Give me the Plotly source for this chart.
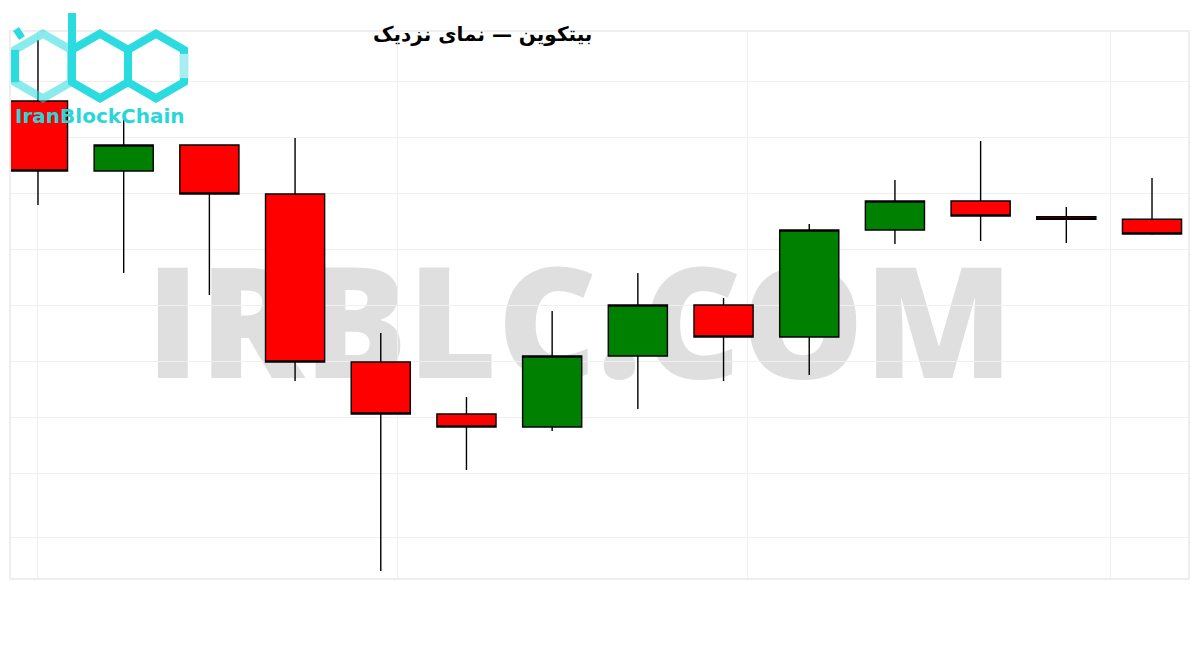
import pandas as pd
import plotly.graph_objects as go

# ---- data ----
dates = pd.date_range("2024-03-01", periods=14, freq="D")
opens = [63821, 63196, 63429, 62991, 61491, 61027, 60911, 61545, 62000, 61714, 62670, 62929, 62789, 62765]
closes = [63196, 63429, 62991, 61491, 61027, 60911, 61545, 62000, 61714, 62670, 62929, 62795, 62765, 62634]
highs = [64366, 63696, 63429, 63491, 61750, 61179, 61946, 62286, 62062, 62723, 63116, 63464, 62875, 63134]
lows = [62893, 62286, 62089, 61321, 59625, 60527, 60875, 61071, 61321, 61375, 62545, 62571, 62554, 62625]
grid_prices = [64000, 63500, 63000, 62500, 62000, 61500, 61000, 60500, 59920]
title_text = "بیتکوین — نمای نزدیک"
watermark_text = "IRBLC.COM"
logo_text = "IranBlockChain"

# ---- layout helpers (target pixel -> paper) ----
L, R, T, B = 11, 1188, 32, 578
OFF = 8  # page body margin offset
def fx(px):
    return (px - L) / (R - L)
def fy(py):
    return (B - py) / (B - T)

d0 = dates[0]
day = pd.Timedelta(days=1)
x_range = [d0 - 0.315 * day, d0 + 13.42 * day]
x_grid = [d0 + k * day for k in (0, 4.2, 8.285, 12.51)]

fig = go.Figure()

fig.add_trace(go.Candlestick(
    x=dates, open=opens, high=highs, low=lows, close=closes,
    increasing=dict(fillcolor="#008000", line=dict(color="black", width=1.4)),
    decreasing=dict(fillcolor="#ff0000", line=dict(color="black", width=1.4)),
    whiskerwidth=0, showlegend=False, hoverinfo="skip",
))

shapes = []
# watermark as a shape label drawn below the traces
shapes.append(dict(
    type="rect", xref="x", yref="y", layer="below",
    x0=d0 + 1.32 * day, x1=d0 + 11.32 * day, y0=61290, y1=62290,
    line=dict(width=0), fillcolor="rgba(0,0,0,0)",
    label=dict(text=watermark_text, textposition="middle center",
               font=dict(family="Open Sans", size=154, color="rgba(175,175,175,0.4)", weight=800)),
))

# ---- logo shapes ----
cyan = "#2adbdf"
light = "#a6eef0"
r, w, cy = 32.3, 56.0, 66.0
def hex_path(cx):
    pts = [(cx, cy - r), (cx + w / 2, cy - r / 2), (cx + w / 2, cy + r / 2),
           (cx, cy + r), (cx - w / 2, cy + r / 2), (cx - w / 2, cy - r / 2)]
    return "M " + " L ".join(f"{fx(a)},{fy(b)}" for a, b in pts) + " Z"

shapes.append(dict(type="path", path=hex_path(43), line=dict(color="rgba(42,219,223,0.55)", width=8),
                   xref="paper", yref="paper", layer="above"))
shapes.append(dict(type="line", x0=fx(43 - w / 2), x1=fx(43 - w / 2), y0=fy(cy - r / 2), y1=fy(cy + r / 2),
                   line=dict(color=cyan, width=8), xref="paper", yref="paper", layer="above"))
shapes.append(dict(type="path", path=hex_path(100), line=dict(color=cyan, width=8),
                   xref="paper", yref="paper", layer="above"))
shapes.append(dict(type="path", path=hex_path(156), line=dict(color=cyan, width=8),
                   xref="paper", yref="paper", layer="above"))
shapes.append(dict(type="line", x0=fx(156 + w / 2), x1=fx(156 + w / 2), y0=fy(cy - r / 2 + 4), y1=fy(cy + r / 2 - 4),
                   line=dict(color=light, width=9), xref="paper", yref="paper", layer="above"))
shapes.append(dict(type="line", x0=fx(72), x1=fx(72), y0=fy(13), y1=fy(cy + r / 2),
                   line=dict(color=cyan, width=8), xref="paper", yref="paper", layer="above"))
shapes.append(dict(type="line", x0=fx(16), x1=fx(22), y0=fy(29), y1=fy(38),
                   line=dict(color=cyan, width=7), xref="paper", yref="paper", layer="above"))

annotations = [
    dict(text=f"<b>{title_text}</b>", x=fx(482), y=fy(34), xref="paper", yref="paper",
         xanchor="center", yanchor="middle", showarrow=False,
         font=dict(family="DejaVu Sans", size=20, color="black")),
    dict(text=f"<b>{logo_text}</b>", x=fx(100), y=fy(116), xref="paper", yref="paper",
         xanchor="center", yanchor="middle", showarrow=False,
         font=dict(family="DejaVu Sans", size=20, color="#2ad6da")),
]

fig.update_layout(
    width=1200, height=650,
    margin=dict(l=L - OFF, r=1200 - R + OFF, t=T - OFF, b=650 - B + OFF),
    paper_bgcolor="white", plot_bgcolor="white",
    showlegend=False, hovermode=False,
    boxgap=0.31, boxgroupgap=0,
    shapes=shapes, annotations=annotations,
    xaxis=dict(type="date", range=x_range, rangeslider=dict(visible=False),
               tickvals=x_grid, showticklabels=False, ticks="",
               showgrid=True, gridcolor="#efefef", gridwidth=1, zeroline=False,
               showline=True, mirror=True, linecolor="#eeeeee", linewidth=2),
    yaxis=dict(range=[59562.5, 64437.5], tickvals=grid_prices, showticklabels=False, ticks="",
               showgrid=True, gridcolor="#efefef", gridwidth=1, zeroline=False,
               showline=True, mirror=True, linecolor="#eeeeee", linewidth=2),
)

fig.write_html("out.html")
